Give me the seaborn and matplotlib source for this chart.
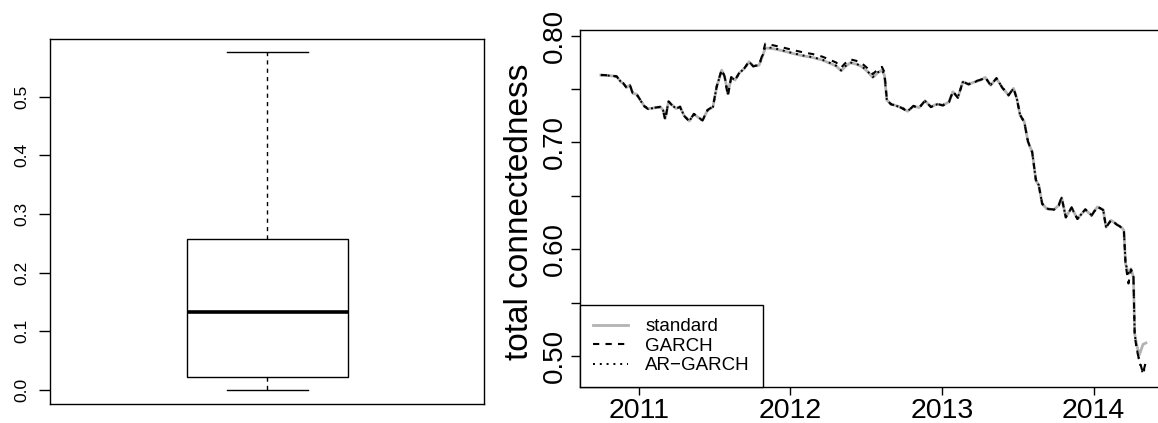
import matplotlib
matplotlib.use("Agg")
import matplotlib.pyplot as plt
import pandas as pd
import seaborn as sns

plt.rcParams["font.family"] = ["Liberation Sans", "DejaVu Sans"]

# ---- left panel: distribution summary ----
box_values = [0.0, 0.0228, 0.1337, 0.257, 0.5756]
box_ticks = [0.0, 0.1, 0.2, 0.3, 0.4, 0.5]
box_tick_labels = ["0.0", "0.1", "0.2", "0.3", "0.4", "0.5"]

# ---- right panel: total connectedness over time ----
dates = [
    "2010-10-02", "2010-10-21", "2010-11-09", "2010-11-19", "2010-11-25",
    "2010-12-03", "2010-12-11", "2010-12-18", "2010-12-27", "2011-01-05",
    "2011-01-15", "2011-01-24", "2011-02-08", "2011-02-22", "2011-03-01",
    "2011-03-06", "2011-03-14", "2011-03-23", "2011-04-01", "2011-04-11",
    "2011-04-20", "2011-05-03", "2011-05-14", "2011-05-25", "2011-06-04",
    "2011-06-16", "2011-06-29", "2011-07-08", "2011-07-20", "2011-07-27",
    "2011-08-04", "2011-08-12", "2011-08-21", "2011-09-01", "2011-09-13",
    "2011-09-24", "2011-10-04", "2011-10-18", "2011-10-26", "2011-11-02",
    "2011-11-21", "2011-12-14", "2012-01-07", "2012-01-31", "2012-02-24",
    "2012-03-19", "2012-04-07", "2012-04-21", "2012-05-03", "2012-05-12",
    "2012-05-25", "2012-06-08", "2012-06-22", "2012-07-06", "2012-07-18",
    "2012-07-30", "2012-08-09", "2012-08-15", "2012-08-21", "2012-08-31",
    "2012-09-11", "2012-09-25", "2012-10-10", "2012-10-24", "2012-11-07",
    "2012-11-21", "2012-12-05", "2012-12-20", "2013-01-03", "2013-01-18",
    "2013-01-27", "2013-02-08", "2013-02-20", "2013-03-06", "2013-03-21",
    "2013-04-04", "2013-04-15", "2013-04-28", "2013-05-12", "2013-05-26",
    "2013-06-10", "2013-06-22", "2013-06-30", "2013-07-08", "2013-07-18",
    "2013-07-27", "2013-08-06", "2013-08-15", "2013-08-22", "2013-08-30",
    "2013-09-10", "2013-09-27", "2013-10-09", "2013-10-16", "2013-10-26",
    "2013-11-09", "2013-11-23", "2013-12-12", "2013-12-27", "2014-01-10",
    "2014-01-24", "2014-01-31", "2014-02-12", "2014-02-26", "2014-03-10",
    "2014-03-15", "2014-03-19", "2014-03-26", "2014-04-01", "2014-04-07",
    "2014-04-10", "2014-04-15", "2014-04-21", "2014-04-30", "2014-05-07",
]

standard = [
    0.7631, 0.7627, 0.7618, 0.7568, 0.7552, 0.7515, 0.7537, 0.7459, 0.7452, 0.7396,
    0.7340, 0.7315, 0.7324, 0.7334, 0.7302, 0.7224, 0.7381, 0.7349, 0.7318, 0.7334,
    0.7255, 0.7202, 0.7265, 0.7234, 0.7209, 0.7302, 0.7334, 0.7521, 0.7677, 0.7621,
    0.7459, 0.7609, 0.7584, 0.7653, 0.7693, 0.7756, 0.7715, 0.7724, 0.7803, 0.7885,
    0.7878, 0.7859, 0.7834, 0.7812, 0.7796, 0.7771, 0.7740, 0.7715, 0.7671, 0.7709,
    0.7746, 0.7734, 0.7709, 0.7662, 0.7609, 0.7653, 0.7677, 0.7631, 0.7396, 0.7359,
    0.7346, 0.7327, 0.7293, 0.7340, 0.7327, 0.7390, 0.7334, 0.7359, 0.7349, 0.7381,
    0.7474, 0.7421, 0.7568, 0.7546, 0.7568, 0.7584, 0.7609, 0.7537, 0.7599, 0.7515,
    0.7443, 0.7506, 0.7412, 0.7255, 0.7193, 0.7005, 0.6912, 0.6646, 0.6599, 0.6427,
    0.6380, 0.6371, 0.6411, 0.6483, 0.6302, 0.6389, 0.6286, 0.6371, 0.6318, 0.6396,
    0.6371, 0.6208, 0.6271, 0.6233, 0.6202, 0.6177, 0.5864, 0.5770, 0.5817, 0.5739,
    0.5208, 0.5104, 0.5010, 0.5110, 0.5123,
]

garch = [
    0.7633, 0.7628, 0.7620, 0.7566, 0.7555, 0.7512, 0.7540, 0.7455, 0.7454, 0.7398,
    0.7337, 0.7313, 0.7326, 0.7332, 0.7298, 0.7212, 0.7385, 0.7346, 0.7320, 0.7331,
    0.7251, 0.7198, 0.7268, 0.7230, 0.7206, 0.7305, 0.7336, 0.7524, 0.7682, 0.7618,
    0.7435, 0.7612, 0.7581, 0.7657, 0.7697, 0.7760, 0.7712, 0.7728, 0.7818, 0.7925,
    0.7910, 0.7890, 0.7866, 0.7845, 0.7828, 0.7803, 0.7772, 0.7748, 0.7702, 0.7740,
    0.7778, 0.7765, 0.7740, 0.7693, 0.7640, 0.7684, 0.7708, 0.7660, 0.7400, 0.7356,
    0.7349, 0.7324, 0.7290, 0.7343, 0.7324, 0.7393, 0.7331, 0.7362, 0.7346, 0.7384,
    0.7478, 0.7418, 0.7571, 0.7543, 0.7571, 0.7588, 0.7612, 0.7534, 0.7603, 0.7512,
    0.7440, 0.7509, 0.7409, 0.7258, 0.7190, 0.7008, 0.6909, 0.6649, 0.6596, 0.6430,
    0.6377, 0.6374, 0.6414, 0.6487, 0.6298, 0.6393, 0.6283, 0.6375, 0.6315, 0.6400,
    0.6368, 0.6204, 0.6275, 0.6230, 0.6205, 0.6174, 0.5860, 0.5680, 0.5812, 0.5735,
    0.5200, 0.5057, 0.4963, 0.4840, 0.4950,
]

ar_garch = [
    0.7630, 0.7626, 0.7617, 0.7570, 0.7550, 0.7517, 0.7535, 0.7461, 0.7450, 0.7394,
    0.7342, 0.7317, 0.7322, 0.7336, 0.7300, 0.7220, 0.7383, 0.7351, 0.7316, 0.7336,
    0.7253, 0.7200, 0.7267, 0.7232, 0.7211, 0.7300, 0.7332, 0.7523, 0.7675, 0.7623,
    0.7450, 0.7607, 0.7586, 0.7651, 0.7695, 0.7754, 0.7717, 0.7722, 0.7806, 0.7893,
    0.7885, 0.7862, 0.7837, 0.7815, 0.7799, 0.7774, 0.7743, 0.7718, 0.7674, 0.7712,
    0.7749, 0.7737, 0.7712, 0.7665, 0.7612, 0.7656, 0.7680, 0.7634, 0.7394, 0.7361,
    0.7344, 0.7329, 0.7295, 0.7338, 0.7329, 0.7388, 0.7336, 0.7357, 0.7351, 0.7379,
    0.7476, 0.7423, 0.7566, 0.7548, 0.7566, 0.7586, 0.7607, 0.7539, 0.7597, 0.7517,
    0.7445, 0.7504, 0.7414, 0.7253, 0.7195, 0.7003, 0.6914, 0.6644, 0.6601, 0.6425,
    0.6382, 0.6369, 0.6409, 0.6481, 0.6304, 0.6387, 0.6288, 0.6369, 0.6320, 0.6394,
    0.6373, 0.6210, 0.6269, 0.6235, 0.6200, 0.6179, 0.5866, 0.5775, 0.5815, 0.5741,
    0.5205, 0.5070, 0.4950, 0.4832, 0.4920,
]

series_names = ["standard", "GARCH", "AR\u2212GARCH"]
year_ticks = ["2011-01-01", "2012-01-01", "2013-01-01", "2014-01-01"]
year_labels = ["2011", "2012", "2013", "2014"]
level_ticks = [0.50, 0.55, 0.60, 0.65, 0.70, 0.75, 0.80]
level_labels = ["0.50", "", "0.60", "", "0.70", "", "0.80"]

fig = plt.figure(figsize=(11.58, 4.23), dpi=100)
ax_box = fig.add_axes([0.0436, 0.0456, 0.3746, 0.8615])
ax_ts = fig.add_axes([0.5006, 0.0844, 0.5076, 0.8454])

# ---- boxplot ----
sns.boxplot(
    y=box_values, ax=ax_box, width=0.4, color="white", linecolor="black",
    linewidth=1.0, whis=1.5, saturation=1,
    medianprops={"linewidth": 2.6},
    whiskerprops={"linestyle": (0, (3, 3))},
)
ax_box.set_xlim(-0.54, 0.54)
ax_box.set_ylim(-0.0234, 0.5979)
ax_box.set_xticks([])
ax_box.set_yticks(box_ticks)
ax_box.set_yticklabels(box_tick_labels, rotation=90, va="center")
ax_box.tick_params(axis="y", length=8, width=1, pad=7.5, labelsize=12.6, colors="black")
ax_box.set_xlabel("")
ax_box.set_ylabel("")
for spine in ax_box.spines.values():
    spine.set_linewidth(1.0)
    spine.set_color("black")

# ---- time series ----
frame = pd.DataFrame({
    "date": pd.to_datetime(dates),
    series_names[0]: standard,
    series_names[1]: garch,
    series_names[2]: ar_garch,
})
sns.lineplot(data=frame, x="date", y=series_names[0], ax=ax_ts,
             color="#b3b3b3", linewidth=2.0, label=series_names[0])
sns.lineplot(data=frame, x="date", y=series_names[1], ax=ax_ts,
             color="black", linewidth=1.5, linestyle=(0, (3, 3)), label=series_names[1])
sns.lineplot(data=frame, x="date", y=series_names[2], ax=ax_ts,
             color="black", linewidth=1.4, linestyle=(0, (1, 2.5)), label=series_names[2])

ax_ts.set_xlim(pd.Timestamp("2010-08-12"), pd.Timestamp("2014-06-28"))
ax_ts.set_ylim(0.4708, 0.8056)
ax_ts.set_xticks(pd.to_datetime(year_ticks))
ax_ts.set_xticklabels(year_labels)
ax_ts.set_yticks(level_ticks)
ax_ts.set_yticklabels(level_labels, rotation=90, va="center")
ax_ts.tick_params(axis="y", length=6.5, width=1, pad=2.2, labelsize=20, colors="black")
ax_ts.tick_params(axis="x", length=5.5, width=1, pad=2, labelsize=20.5, colors="black")
ax_ts.set_xlabel("")
ax_ts.set_ylabel("total connectedness", fontsize=24)
ax_ts.yaxis.set_label_coords(-0.0755, 0.49)
for spine in ax_ts.spines.values():
    spine.set_linewidth(1.0)
    spine.set_color("black")

leg = ax_ts.legend(
    loc="lower left", bbox_to_anchor=(0, 0), borderaxespad=0,
    fontsize=13.5, handlelength=1.9, handletextpad=0.9, labelspacing=0.12,
    borderpad=0.7, fancybox=False, framealpha=1, edgecolor="black",
)
leg.get_frame().set_linewidth(1.0)

fig.savefig("out.png", dpi=100)
